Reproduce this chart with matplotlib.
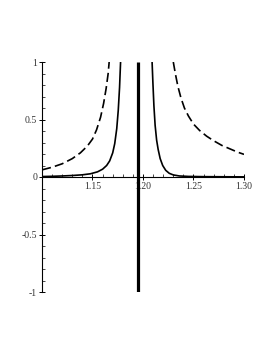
import matplotlib.pyplot as plt
from matplotlib.ticker import MultipleLocator, FixedLocator

# values
solid_left_x = [1.100, 1.110, 1.120, 1.130, 1.140, 1.148, 1.155, 1.160, 1.164, 1.167, 1.170, 1.172, 1.174, 1.1755, 1.1768, 1.1778]
solid_left_y = [0.004, 0.006, 0.009, 0.013, 0.019, 0.028, 0.045, 0.068, 0.100, 0.140, 0.210, 0.290, 0.420, 0.580, 0.780, 1.000]
solid_right_x = [1.2090, 1.2098, 1.2108, 1.2120, 1.2135, 1.2150, 1.2170, 1.2195, 1.2225, 1.2260, 1.2300, 1.2360, 1.245, 1.260, 1.280, 1.300]
solid_right_y = [1.000, 0.820, 0.620, 0.450, 0.320, 0.240, 0.160, 0.100, 0.058, 0.032, 0.018, 0.009, 0.005, 0.003, 0.002, 0.001]
dashed_left_x = [1.100, 1.110, 1.120, 1.130, 1.138, 1.145, 1.150, 1.154, 1.158, 1.161, 1.1635, 1.1655, 1.1665]
dashed_left_y = [0.062, 0.085, 0.115, 0.160, 0.210, 0.270, 0.330, 0.410, 0.520, 0.640, 0.770, 0.900, 1.000]
dashed_right_x = [1.2300, 1.2320, 1.2345, 1.2375, 1.2410, 1.2450, 1.2500, 1.2560, 1.2630, 1.2700, 1.2780, 1.2860, 1.2940, 1.3000]
dashed_right_y = [1.000, 0.900, 0.790, 0.690, 0.600, 0.530, 0.460, 0.405, 0.355, 0.315, 0.275, 0.245, 0.215, 0.197]
pole_x = 1.195

fig = plt.figure(figsize=(2.73, 3.53), dpi=100)
ax = fig.add_axes([42 / 273, 1 - 292 / 353, 202 / 273, 230 / 353])

ax.plot(solid_left_x, solid_left_y, color='black', lw=1.2, solid_capstyle='butt')
ax.plot(solid_right_x, solid_right_y, color='black', lw=1.2, solid_capstyle='butt')
ax.plot(dashed_left_x, dashed_left_y, color='black', lw=1.2, dashes=(5.5, 2.5))
ax.plot(dashed_right_x, dashed_right_y, color='black', lw=1.2, dashes=(5.5, 2.5))
ax.plot([pole_x, pole_x], [-1, 1], color='black', lw=2.3, solid_capstyle='butt', zorder=5)

ax.set_xlim(1.10, 1.30)
ax.set_ylim(-1, 1)

ax.spines['top'].set_visible(False)
ax.spines['right'].set_visible(False)
ax.spines['bottom'].set_position(('data', 0))
ax.spines['left'].set_linewidth(0.8)
ax.spines['bottom'].set_linewidth(0.8)

ax.xaxis.set_major_locator(FixedLocator([1.15, 1.20, 1.25, 1.30]))
ax.xaxis.set_minor_locator(MultipleLocator(0.01))
ax.yaxis.set_major_locator(FixedLocator([-1, -0.5, 0, 0.5, 1]))
ax.yaxis.set_minor_locator(MultipleLocator(0.1))
ax.set_xticklabels(['1.15', '1.20', '1.25', '1.30'])
ax.set_yticklabels(['-1', '-0.5', '0', '0.5', '1'])

for a in (ax.xaxis, ax.yaxis):
    a.set_tick_params(which='major', direction='inout', length=4, width=0.7, pad=1.5,
                      labelsize=7, labelcolor='#333333')
    a.set_tick_params(which='minor', direction='in', length=2, width=0.5)
for lab in ax.get_xticklabels() + ax.get_yticklabels():
    lab.set_family('Liberation Serif')

fig.savefig('out.png', dpi=100)
